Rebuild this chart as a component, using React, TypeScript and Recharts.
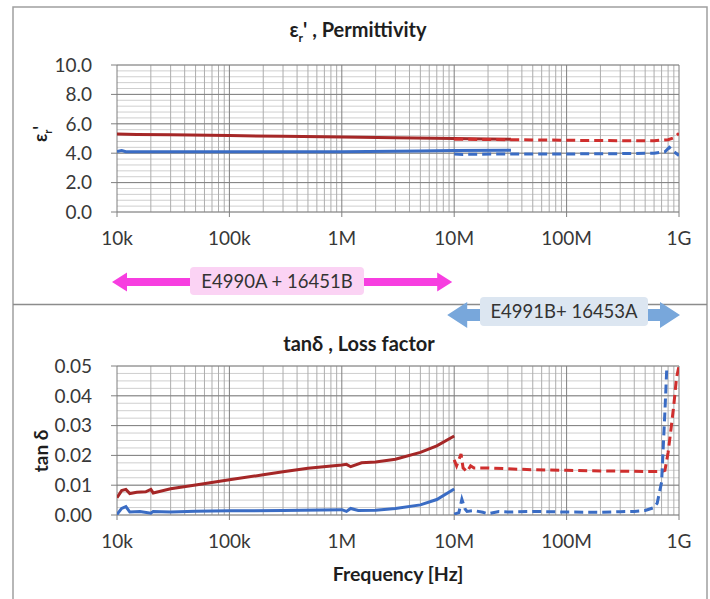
import React from "react";
import { LineChart, XAxis, YAxis, Line, ReferenceLine } from "recharts";

// frequency axis (Hz)
const FREQ_TICKS = [1e4, 1e5, 1e6, 1e7, 1e8, 1e9];
const FREQ_LABELS = ["10k", "100k", "1M", "10M", "100M", "1G"];

// permittivity  εr'
const epsRedSolidF = [1e4, 1.5e4, 3e4, 1e5, 3e5, 1e6, 3e6, 1e7, 2e7, 3.2e7];
const epsRedSolidV = [5.3, 5.28, 5.25, 5.2, 5.15, 5.1, 5.05, 5.0, 4.97, 4.95];
const epsRedDashF = [1e7, 3e7, 1e8, 3e8, 6e8, 8e8, 9e8, 1e9];
const epsRedDashV = [4.95, 4.92, 4.88, 4.85, 4.85, 4.92, 5.05, 5.35];
const epsBlueSolidF = [1e4, 1.1e4, 1.2e4, 1e5, 1e6, 5e6, 1e7, 3.2e7];
const epsBlueSolidV = [4.12, 4.18, 4.1, 4.1, 4.1, 4.15, 4.18, 4.2];
const epsBlueDashF = [1e7, 1.2e7, 3e7, 1e8, 3e8, 6e8, 7.5e8, 8.2e8, 9e8, 1e9];
const epsBlueDashV = [3.95, 3.92, 3.95, 3.95, 3.97, 4.0, 4.1, 4.4, 4.1, 3.85];

// loss factor  tanδ
const tanRedSolidF = [1e4, 1.1e4, 1.2e4, 1.3e4, 1.5e4, 1.8e4, 2e4, 2.1e4, 3e4, 5e4, 1e5, 2e5, 3e5, 5e5, 1e6, 1.1e6, 1.2e6, 1.5e6, 2e6, 3e6, 5e6, 7e6, 1e7];
const tanRedSolidV = [0.0058, 0.0082, 0.0086, 0.0072, 0.0076, 0.0078, 0.0086, 0.0074, 0.0088, 0.0101, 0.0118, 0.0135, 0.0145, 0.0157, 0.0168, 0.017, 0.0162, 0.0175, 0.0178, 0.0187, 0.021, 0.0232, 0.0265];
const tanRedDashF = [1e7, 1.05e7, 1.15e7, 1.2e7, 1.3e7, 1.4e7, 1.5e7, 2e7, 3e7, 5e7, 1e8, 2e8, 3e8, 5e8, 7e8, 7.5e8, 8e8, 8.5e8, 9e8, 9.5e8, 1e9];
const tanRedDashV = [0.0185, 0.0165, 0.0205, 0.0158, 0.0145, 0.0165, 0.0158, 0.0158, 0.0155, 0.0152, 0.015, 0.0148, 0.0147, 0.0146, 0.0146, 0.015, 0.021, 0.029, 0.037, 0.046, 0.05];
const tanBlueSolidF = [1e4, 1.1e4, 1.2e4, 1.3e4, 1.6e4, 2e4, 2.1e4, 3e4, 5e4, 1e5, 3e5, 1e6, 1.1e6, 1.2e6, 1.4e6, 2e6, 3e6, 5e6, 7e6, 1e7];
const tanBlueSolidV = [0.0002, 0.0022, 0.0028, 0.001, 0.0012, 0.0006, 0.0012, 0.001, 0.0013, 0.0014, 0.0015, 0.0018, 0.0012, 0.0022, 0.0015, 0.0016, 0.0022, 0.0034, 0.0052, 0.0087];
const tanBlueDashF = [1e7, 1.1e7, 1.17e7, 1.25e7, 1.3e7, 1.5e7, 1.8e7, 2e7, 2.5e7, 3e7, 5e7, 1e8, 2e8, 3e8, 4e8, 5e8, 6e8, 6.4e8, 7e8, 7.5e8, 7.8e8];
const tanBlueDashV = [0.0003, 0.0008, 0.0053, 0.002, 0.0012, 0.0015, 0.0009, 0.0004, 0.0012, 0.001, 0.0012, 0.001, 0.0009, 0.0011, 0.0012, 0.0015, 0.0025, 0.004, 0.011, 0.035, 0.05];

const EPS_TICKS = [0, 2, 4, 6, 8, 10];
const TAN_TICKS = [0, 0.01, 0.02, 0.03, 0.04, 0.05];

const RED_SOLID = "#a52727";
const RED_DASH = "#cf2f2e";
const BLUE = "#3a6cc4";

const FONT = "Lato, 'Open Sans', sans-serif";
const W = 710;
const PLOT_L = 117;
const PLOT_R = 679;

const zip = (f: number[], v: number[]) => f.map((x, i) => ({ f: x, v: v[i] }));

// log minor grid positions 2..9 x each decade
const minorFreq: number[] = [];
for (let d = 1e4; d < 1e9; d *= 10) {
  for (let m = 2; m <= 9; m++) minorFreq.push(d * m);
}
const steps = (max: number, step: number) => {
  const out: number[] = [];
  for (let i = 0; i * step <= max + 1e-9; i++) out.push(+(i * step).toFixed(6));
  return out;
};

interface Series {
  data: { f: number; v: number }[];
  color: string;
  dashed?: boolean;
}

interface PanelProps {
  height: number;
  margin: { top: number; right: number; bottom: number; left: number };
  xHeight: number;
  yMax: number;
  yTicks: number[];
  yMinor: number[];
  digits: number;
  series: Series[];
}

const Panel: React.FC<PanelProps> = ({ height, margin, xHeight, yMax, yTicks, yMinor, digits, series }) => (
  <LineChart width={W} height={height} margin={margin}>
    <XAxis
      dataKey="f"
      type="number"
      scale="log"
      domain={[1e4, 1e9]}
      ticks={FREQ_TICKS}
      tickFormatter={(t) => FREQ_LABELS[FREQ_TICKS.indexOf(t)] ?? ""}
      allowDataOverflow
      axisLine={false}
      tickLine={{ stroke: "#808080" }}
      tickSize={5}
      tickMargin={15}
      height={xHeight}
      tick={{ fill: "#383838", fontSize: 19, fontFamily: FONT }}
    />
    <YAxis
      dataKey="v"
      type="number"
      domain={[0, yMax]}
      ticks={yTicks}
      allowDataOverflow
      tickFormatter={(t) => Number(t).toFixed(digits)}
      axisLine={false}
      tickLine={{ stroke: "#808080" }}
      tickSize={6}
      tickMargin={19}
      width={60}
      tick={{ fill: "#383838", fontSize: 19, fontFamily: FONT }}
    />
    {yMinor.map((y) => (
      <ReferenceLine key={`hy${y}`} y={y} stroke="#cfcfcf" strokeWidth={1} />
    ))}
    {minorFreq.map((x) => (
      <ReferenceLine key={`vx${x}`} x={x} stroke="#adadad" strokeWidth={1} />
    ))}
    {yTicks.map((y) => (
      <ReferenceLine key={`Hy${y}`} y={y} stroke="#7f7f7f" strokeWidth={1} />
    ))}
    {FREQ_TICKS.map((x) => (
      <ReferenceLine key={`Vx${x}`} x={x} stroke="#7f7f7f" strokeWidth={1} />
    ))}
    {series.map((s, i) => (
      <Line
        key={i}
        data={s.data}
        dataKey="v"
        type="linear"
        stroke={s.color}
        strokeWidth={3}
        strokeDasharray={s.dashed ? "9 5" : undefined}
        dot={false}
        activeDot={false}
        isAnimationActive={false}
      />
    ))}
  </LineChart>
);

const xOf = (f: number) => PLOT_L + ((Math.log10(f) - 4) * (PLOT_R - PLOT_L)) / 5;

const Overlay: React.FC = () => {
  // magenta double arrow: E4990A range 10k..10M
  const m1 = xOf(1e4) - 5;
  const m2 = xOf(1e7) - 2;
  const my = 282;
  // blue double arrow: E4991B range 10M..1G
  const b1 = xOf(1e7) - 7;
  const b2 = xOf(1e9) + 1;
  const by = 315;
  const bold = { fontFamily: FONT, fontWeight: 700, fill: "#1e1e1e" } as const;
  return (
    <svg width={W} height={599} style={{ position: "absolute", left: 0, top: 0, pointerEvents: "none" }}>
      <path d="M13 599 V7 H707 V599" fill="none" stroke="#a0a0a0" strokeWidth={1.5} />
      <line x1={13} x2={707} y1={304.5} y2={304.5} stroke="#8c8c8c" strokeWidth={1.5} />

      <text x={358} y={37} textAnchor="middle" fontSize={20} {...bold}>
        ε<tspan fontSize={12} dy={5}>r</tspan>
        <tspan dy={-5}>' , Permittivity</tspan>
      </text>
      <text x={0} y={0} transform="translate(47,134) rotate(-90)" textAnchor="middle" fontSize={18} {...bold}>
        ε<tspan fontSize={11} dy={5}>r</tspan>
        <tspan dy={-5}>'</tspan>
      </text>

      <text x={359} y={351} textAnchor="middle" fontSize={20} {...bold}>
        tanδ , Loss factor
      </text>
      <text x={0} y={0} transform="translate(48,451) rotate(-90)" textAnchor="middle" fontSize={19} {...bold}>
        tan δ
      </text>
      <text x={398} y={581} textAnchor="middle" fontSize={19.5} {...bold}>
        Frequency [Hz]
      </text>

      <polygon
        points={`${m1},${my} ${m1 + 15},${my - 9.5} ${m1 + 15},${my - 4} ${m2 - 15},${my - 4} ${m2 - 15},${my - 9.5} ${m2},${my} ${m2 - 15},${my + 9.5} ${m2 - 15},${my + 4} ${m1 + 15},${my + 4} ${m1 + 15},${my + 9.5}`}
        fill="#f73ee0"
      />
      <rect x={190} y={267} width={174} height={28} rx={4} fill="#fbd3f4" />
      <text x={277} y={288} textAnchor="middle" fontSize={18.5} fontFamily={FONT} fill="#333">
        E4990A + 16451B
      </text>

      <polygon
        points={`${b1},${by} ${b1 + 20},${by - 13} ${b1 + 20},${by - 6} ${b2 - 20},${by - 6} ${b2 - 20},${by - 13} ${b2},${by} ${b2 - 20},${by + 13} ${b2 - 20},${by + 6} ${b1 + 20},${by + 6} ${b1 + 20},${by + 13}`}
        fill="#78a7db"
      />
      <rect x={480} y={297} width={168} height={29} rx={4} fill="#dce6f1" />
      <text x={564} y={318} textAnchor="middle" fontSize={18.5} fontFamily={FONT} fill="#333">
        E4991B+ 16453A
      </text>
    </svg>
  );
};

export default function App() {
  const epsSeries: Series[] = [
    { data: zip(epsBlueSolidF, epsBlueSolidV), color: BLUE },
    { data: zip(epsBlueDashF, epsBlueDashV), color: BLUE, dashed: true },
    { data: zip(epsRedSolidF, epsRedSolidV), color: RED_SOLID },
    { data: zip(epsRedDashF, epsRedDashV), color: RED_DASH, dashed: true },
  ];
  const tanSeries: Series[] = [
    { data: zip(tanRedSolidF, tanRedSolidV), color: RED_SOLID },
    { data: zip(tanRedDashF, tanRedDashV), color: RED_DASH, dashed: true },
    { data: zip(tanBlueSolidF, tanBlueSolidV), color: BLUE },
    { data: zip(tanBlueDashF, tanBlueDashV), color: BLUE, dashed: true },
  ];
  return (
    <div style={{ position: "absolute", left: 0, top: 0, width: W, height: 599, background: "#fff", fontFamily: FONT }}>
      <div style={{ position: "absolute", left: 0, top: 0 }}>
        <Panel
          height={300}
          margin={{ top: 65, right: 31, bottom: 48, left: 57 }}
          xHeight={40}
          yMax={10}
          yTicks={EPS_TICKS}
          yMinor={steps(10, 0.4)}
          digits={1}
          series={epsSeries}
        />
      </div>
      <div style={{ position: "absolute", left: 0, top: 300 }}>
        <Panel
          height={299}
          margin={{ top: 66, right: 31, bottom: 24, left: 57 }}
          xHeight={60}
          yMax={0.05}
          yTicks={TAN_TICKS}
          yMinor={steps(0.05, 0.0025)}
          digits={2}
          series={tanSeries}
        />
      </div>
      <Overlay />
    </div>
  );
}
